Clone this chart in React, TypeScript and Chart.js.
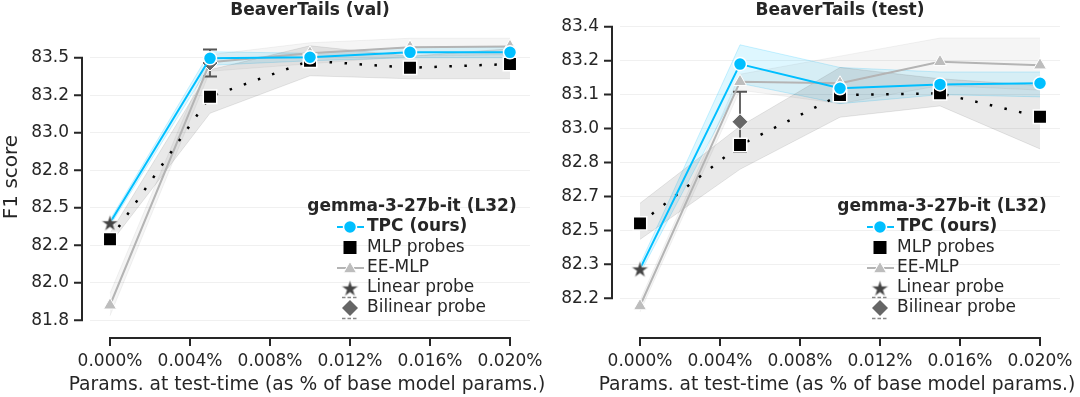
import React, { useEffect, useRef } from 'react';
import { Chart, registerables } from 'chart.js';

Chart.register(...registerables);

const FONT = '"DejaVu Sans", sans-serif';
const INK = '#262626';
const TPC_COLOR = '#00bfff';
const EE_LINE = '#b4b4b4';
const EE_MARK = '#bdbdbd';

// ---------- shared x axis ----------
const xParams = [0, 0.005, 0.01, 0.015, 0.02];
const xTickValues = [0, 0.004, 0.008, 0.012, 0.016, 0.02];
const xTickLabels = ['0.000%', '0.004%', '0.008%', '0.012%', '0.016%', '0.020%'];
const xTitle = 'Params. at test-time (as % of base model params.)';
const linearX = [0];
const bilinearX = [0.005];

// ---------- BeaverTails (val) ----------
const valYTicks = [81.75, 82.0, 82.25, 82.5, 82.75, 83.0, 83.25, 83.5];
const valYLabels = ['81.8', '82.0', '82.2', '82.5', '82.8', '83.0', '83.2', '83.5'];
const valTPC = [82.4, 83.496, 83.503, 83.536, 83.536];
const valTPCLo = [82.38, 83.45, 83.48, 83.5, 83.5];
const valTPCHi = [82.42, 83.54, 83.53, 83.57, 83.57];
const valMLP = [82.29, 83.24, 83.48, 83.433, 83.458];
const valMLPLo = [82.26, 83.13, 83.38, 83.36, 83.36];
const valMLPHi = [82.33, 83.42, 83.58, 83.51, 83.56];
const valEE = [81.85, 83.47, 83.53, 83.57, 83.575];
const valEELo = [81.78, 83.41, 83.46, 83.51, 83.52];
const valEEHi = [81.93, 83.52, 83.6, 83.63, 83.63];
const valLinear = [82.4];
const valBilinear = [83.465];
const valBilinearErr = [0.09];

// ---------- BeaverTails (test) ----------
const testYTicks = [82.2, 82.35, 82.5, 82.65, 82.8, 82.95, 83.1, 83.25, 83.4];
const testYLabels = ['82.2', '82.3', '82.5', '82.7', '82.8', '83.0', '83.1', '83.2', '83.4'];
const testTPC = [82.33, 83.235, 83.128, 83.145, 83.15];
const testTPCLo = [82.31, 83.15, 83.06, 83.1, 83.09];
const testTPCHi = [82.35, 83.32, 83.22, 83.2, 83.2];
const testMLP = [82.531, 82.877, 83.098, 83.106, 83.002];
const testMLPLo = [82.46, 82.77, 83.0, 83.05, 82.86];
const testMLPHi = [82.62, 82.96, 83.22, 83.17, 83.14];
const testEE = [82.166, 83.157, 83.15, 83.245, 83.23];
const testEELo = [82.14, 83.12, 83.06, 83.14, 83.12];
const testEEHi = [82.19, 83.19, 83.27, 83.35, 83.35];
const testLinear = [82.33];
const testBilinear = [82.98];
const testBilinearErr = [0.133];

type Panel = {
  title: string;
  yTicks: number[];
  yLabels: string[];
  yMin: number;
  yMax: number;
  tpc: number[]; tpcLo: number[]; tpcHi: number[];
  mlp: number[]; mlpLo: number[]; mlpHi: number[];
  ee: number[]; eeLo: number[]; eeHi: number[];
  linear: number[]; bilinear: number[]; bilinearErr: number[];
  yAxisWidth: number;
  padRight: number;
  yTitle: string;
  canvasLeft: number;
  canvasWidth: number;
};

const panels: Panel[] = [
  {
    title: 'BeaverTails (val)', yTicks: valYTicks, yLabels: valYLabels, yMin: 81.685, yMax: 83.725,
    tpc: valTPC, tpcLo: valTPCLo, tpcHi: valTPCHi, mlp: valMLP, mlpLo: valMLPLo, mlpHi: valMLPHi,
    ee: valEE, eeLo: valEELo, eeHi: valEEHi, linear: valLinear, bilinear: valBilinear, bilinearErr: valBilinearErr,
    yAxisWidth: 90, padRight: 30, yTitle: 'F1 score', canvasLeft: 0, canvasWidth: 560,
  },
  {
    title: 'BeaverTails (test)', yTicks: testYTicks, yLabels: testYLabels, yMin: 82.06, yMax: 83.412,
    tpc: testTPC, tpcLo: testTPCLo, tpcHi: testTPCHi, mlp: testMLP, mlpLo: testMLPLo, mlpHi: testMLPHi,
    ee: testEE, eeLo: testEELo, eeHi: testEEHi, linear: testLinear, bilinear: testBilinear, bilinearErr: testBilinearErr,
    yAxisWidth: 80, padRight: 20, yTitle: '', canvasLeft: 540, canvasWidth: 540,
  },
];

function makeStar(size: number, fill: string): HTMLCanvasElement {
  const c = document.createElement('canvas');
  c.width = size; c.height = size;
  const ctx = c.getContext('2d')!;
  const cx = size / 2, cy = size / 2 + size * 0.05;
  const R = size / 2 - 0.5, r = R * 0.382;
  ctx.beginPath();
  for (let i = 0; i < 10; i++) {
    const ang = -Math.PI / 2 + (i * Math.PI) / 5;
    const rad = i % 2 === 0 ? R : r;
    const px = cx + rad * Math.cos(ang), py = cy + rad * Math.sin(ang);
    if (i === 0) ctx.moveTo(px, py); else ctx.lineTo(px, py);
  }
  ctx.closePath();
  ctx.fillStyle = fill;
  ctx.fill();
  ctx.strokeStyle = 'rgba(255,255,255,0.9)';
  ctx.lineWidth = 0.7;
  ctx.stroke();
  return c;
}

const pts = (xs: number[], ys: number[]) => ys.map((y, i) => ({ x: xs[i], y }));

function drawTriangle(ctx: CanvasRenderingContext2D, x: number, y: number, r: number) {
  ctx.beginPath();
  for (let i = 0; i < 3; i++) {
    const a = -Math.PI / 2 + (i * 2 * Math.PI) / 3;
    const px = x + r * Math.cos(a), py = y + r * Math.sin(a);
    if (i === 0) ctx.moveTo(px, py); else ctx.lineTo(px, py);
  }
  ctx.closePath();
}

function decorPlugin(p: Panel, star: HTMLCanvasElement) {
  return {
    id: 'decor',
    beforeDatasetDraw(chart: any, args: any) {
      const ds = chart.data.datasets[args.index];
      if (ds.label !== 'EE-MLP') return;
      const ctx = chart.ctx as CanvasRenderingContext2D;
      const xs = chart.scales.x, ys = chart.scales.y;
      ctx.save();
      for (let i = 0; i < p.bilinear.length; i++) {
        const px = xs.getPixelForValue(bilinearX[i]);
        const yt = ys.getPixelForValue(p.bilinear[i] + p.bilinearErr[i]);
        const yb = ys.getPixelForValue(p.bilinear[i] - p.bilinearErr[i]);
        ctx.strokeStyle = '#666';
        ctx.lineWidth = 2;
        ctx.beginPath(); ctx.moveTo(px, yt); ctx.lineTo(px, yb); ctx.stroke();
        ctx.strokeStyle = '#555';
        ctx.beginPath();
        ctx.moveTo(px - 7, yt); ctx.lineTo(px + 7, yt);
        ctx.moveTo(px - 7, yb); ctx.lineTo(px + 7, yb);
        ctx.stroke();
      }
      ctx.restore();
    },
    afterDraw(chart: any) {
      const ctx = chart.ctx as CanvasRenderingContext2D;
      const ca = chart.chartArea;
      const xs = chart.scales.x, ys = chart.scales.y;
      ctx.save();
      ctx.strokeStyle = INK;
      ctx.lineWidth = 2;
      ctx.lineCap = 'butt';
      // y spine + ticks
      const sx = ca.left - 8;
      const yTop = ys.getPixelForValue(p.yTicks[p.yTicks.length - 1]);
      const yBot = ys.getPixelForValue(p.yTicks[0]);
      ctx.beginPath();
      ctx.moveTo(sx, yTop - 1); ctx.lineTo(sx, yBot + 1);
      p.yTicks.forEach((v) => {
        const py = ys.getPixelForValue(v);
        ctx.moveTo(sx - 8, py); ctx.lineTo(sx, py);
      });
      ctx.stroke();
      // x spine + ticks
      const sy = ca.bottom + 8;
      const xl = xs.getPixelForValue(xTickValues[0]);
      const xr = xs.getPixelForValue(xTickValues[xTickValues.length - 1]);
      ctx.beginPath();
      ctx.moveTo(xl - 1, sy); ctx.lineTo(xr + 1, sy);
      xTickValues.forEach((v) => {
        const px = xs.getPixelForValue(v);
        ctx.moveTo(px, sy); ctx.lineTo(px, sy + 8);
      });
      ctx.stroke();

      // x axis title (drawn here so it is not squeezed to the axis width)
      ctx.fillStyle = INK;
      ctx.textAlign = 'center';
      ctx.textBaseline = 'middle';
      ctx.font = `18.7px ${FONT}`;
      ctx.fillText(xTitle, (ca.left + ca.right) / 2 - 3, 385);

      // legend
      const mx = ca.right - 180;
      const tx = ca.right - 163;
      const rows = [227, 247.5, 268, 288, 308];
      ctx.fillStyle = INK;
      ctx.textBaseline = 'middle';
      ctx.textAlign = 'center';
      ctx.font = `bold 17px ${FONT}`;
      ctx.fillText('gemma-3-27b-it (L32)', ca.right - 118, 207);
      ctx.textAlign = 'left';
      // TPC
      ctx.strokeStyle = TPC_COLOR; ctx.lineWidth = 2;
      ctx.beginPath(); ctx.moveTo(mx - 13, rows[0]); ctx.lineTo(mx + 14, rows[0]); ctx.stroke();
      ctx.beginPath(); ctx.arc(mx, rows[0], 6.5, 0, Math.PI * 2);
      ctx.fillStyle = TPC_COLOR; ctx.fill();
      ctx.strokeStyle = '#fff'; ctx.lineWidth = 1.5; ctx.stroke();
      ctx.fillStyle = INK; ctx.font = `bold 17px ${FONT}`;
      ctx.fillText('TPC (ours)', tx, rows[0]);
      // MLP
      ctx.fillStyle = '#000';
      ctx.fillRect(mx - 6.5, rows[1] - 6.5, 13, 13);
      ctx.fillStyle = INK; ctx.font = `17px ${FONT}`;
      ctx.fillText('MLP probes', tx, rows[1]);
      // EE
      ctx.strokeStyle = EE_LINE; ctx.lineWidth = 2;
      ctx.beginPath(); ctx.moveTo(mx - 13, rows[2]); ctx.lineTo(mx + 14, rows[2]); ctx.stroke();
      drawTriangle(ctx, mx, rows[2] + 1, 7.5);
      ctx.fillStyle = EE_MARK; ctx.fill();
      ctx.strokeStyle = '#fff'; ctx.lineWidth = 1; ctx.stroke();
      ctx.fillStyle = INK;
      ctx.fillText('EE-MLP', tx, rows[2]);
      // Linear
      ctx.drawImage(star, mx - star.width / 2, rows[3] - star.height / 2);
      ctx.fillStyle = INK;
      ctx.fillText('Linear probe', tx, rows[3]);
      // Bilinear
      ctx.strokeStyle = '#888'; ctx.lineWidth = 1.5;
      ctx.setLineDash([3.5, 2]);
      ctx.beginPath();
      ctx.moveTo(mx - 8, rows[4] - 10.5); ctx.lineTo(mx + 8, rows[4] - 10.5);
      ctx.moveTo(mx - 8, rows[4] + 10.5); ctx.lineTo(mx + 8, rows[4] + 10.5);
      ctx.stroke();
      ctx.setLineDash([]);
      ctx.beginPath();
      ctx.moveTo(mx - 8, rows[4]); ctx.lineTo(mx, rows[4] - 8);
      ctx.lineTo(mx + 8, rows[4]); ctx.lineTo(mx, rows[4] + 8);
      ctx.closePath();
      ctx.fillStyle = '#666'; ctx.fill();
      ctx.fillStyle = INK;
      ctx.fillText('Bilinear probe', tx, rows[4]);
      ctx.restore();
    },
  };
}

function makeConfig(p: Panel, star: HTMLCanvasElement): any {
  const band = (hi: number[], lo: number[], fillColor: string, edge: string) => [
    { label: 'hi', data: pts(xParams, hi), borderColor: edge, borderWidth: 1, pointRadius: 0, fill: false, order: 20 },
    { label: 'lo', data: pts(xParams, lo), borderColor: edge, borderWidth: 1, pointRadius: 0, fill: '-1', backgroundColor: fillColor, order: 20 },
  ];
  const datasets: any[] = [
    ...band(p.eeHi, p.eeLo, 'rgba(0,0,0,0.04)', 'rgba(0,0,0,0.05)'),
    ...band(p.mlpHi, p.mlpLo, 'rgba(0,0,0,0.085)', 'rgba(0,0,0,0.09)'),
    ...band(p.tpcHi, p.tpcLo, 'rgba(0,191,255,0.13)', 'rgba(0,191,255,0.2)'),
    {
      label: 'EE-MLP', data: pts(xParams, p.ee), borderColor: EE_LINE, borderWidth: 2,
      pointStyle: 'triangle', pointRadius: 7.5, pointBackgroundColor: EE_MARK, pointBorderColor: '#fff', pointBorderWidth: 1,
      fill: false, order: 6,
    },
    {
      label: 'MLP probes', data: pts(xParams, p.mlp), borderColor: '#000', borderWidth: 2.5, borderDash: [2.5, 12.5],
      pointStyle: 'rect', pointRadius: 9.5, pointBackgroundColor: '#000', pointBorderColor: '#fff', pointBorderWidth: 1.5,
      fill: false, order: 5,
    },
    {
      label: 'Bilinear probe', data: pts(bilinearX, p.bilinear), showLine: false,
      pointStyle: 'rectRot', pointRadius: 8, pointBackgroundColor: '#666', pointBorderColor: '#fff', pointBorderWidth: 1,
      order: 4,
    },
    {
      label: 'TPC (ours)', data: pts(xParams, p.tpc), borderColor: TPC_COLOR, borderWidth: 2,
      pointStyle: 'circle', pointRadius: [0, 6.5, 6.5, 6.5, 6.5], pointBackgroundColor: TPC_COLOR, pointBorderColor: '#fff', pointBorderWidth: 1.5,
      fill: false, order: 3,
    },
    {
      label: 'Linear probe', data: pts(linearX, p.linear), showLine: false,
      pointStyle: star, pointRadius: 8, order: 2,
    },
  ];
  return {
    type: 'line',
    data: { datasets },
    options: {
      animation: false,
      responsive: false,
      devicePixelRatio: 1,
      events: [],
      layout: { padding: { left: 0, right: p.padRight, top: 0, bottom: 0 } },
      elements: { line: { tension: 0 } },
      plugins: {
        legend: { display: false },
        tooltip: { enabled: false },
        title: {
          display: true, text: p.title, fullSize: false, color: INK,
          font: { family: FONT, size: 17, weight: 'bold' }, padding: { top: 0, bottom: 3.6 },
        },
      },
      scales: {
        x: {
          type: 'linear', min: -0.001, max: 0.021, bounds: 'data',
          afterBuildTicks: (s: any) => { s.ticks = xTickValues.map((v) => ({ value: v })); },
          afterFit: (s: any) => { s.height = 67; s.paddingLeft = 0; s.paddingRight = 0; },
          ticks: {
            autoSkip: false, maxRotation: 0, padding: 21, color: INK,
            font: { family: FONT, size: 17 },
            callback: (_v: any, i: number) => xTickLabels[i],
          },
          grid: { display: false, drawTicks: false },
          border: { display: false },
          title: { display: false },
        },
        y: {
          type: 'linear', min: p.yMin, max: p.yMax, bounds: 'data',
          afterBuildTicks: (s: any) => { s.ticks = p.yTicks.map((v) => ({ value: v })); },
          afterFit: (s: any) => { s.width = p.yAxisWidth; s.paddingTop = 0; s.paddingBottom = 0; },
          ticks: {
            autoSkip: false, padding: 21, color: INK,
            font: { family: FONT, size: 17 },
            callback: (_v: any, i: number) => p.yLabels[i],
          },
          grid: { display: true, drawTicks: false, color: '#f0f0f0', lineWidth: 1 },
          border: { display: false },
          title: {
            display: p.yTitle !== '', text: p.yTitle, color: INK,
            font: { family: FONT, size: 20 }, padding: { top: 0, bottom: 0 },
          },
        },
      },
    },
    plugins: [decorPlugin(p, star)],
  };
}

function Panel({ p }: { p: Panel }) {
  const ref = useRef<HTMLCanvasElement | null>(null);
  useEffect(() => {
    if (!ref.current) return;
    const star = makeStar(19, '#444');
    const chart = new Chart(ref.current, makeConfig(p, star));
    return () => chart.destroy();
  }, [p]);
  return (
    <canvas
      ref={ref}
      width={p.canvasWidth}
      height={397}
      style={{ position: 'absolute', left: p.canvasLeft, top: 0, width: p.canvasWidth, height: 397 }}
    />
  );
}

export default function App() {
  return (
    <div style={{ position: 'fixed', left: 0, top: 0, width: 1080, height: 397, background: '#fff' }}>
      <Panel p={panels[0]} />
      <Panel p={panels[1]} />
    </div>
  );
}
